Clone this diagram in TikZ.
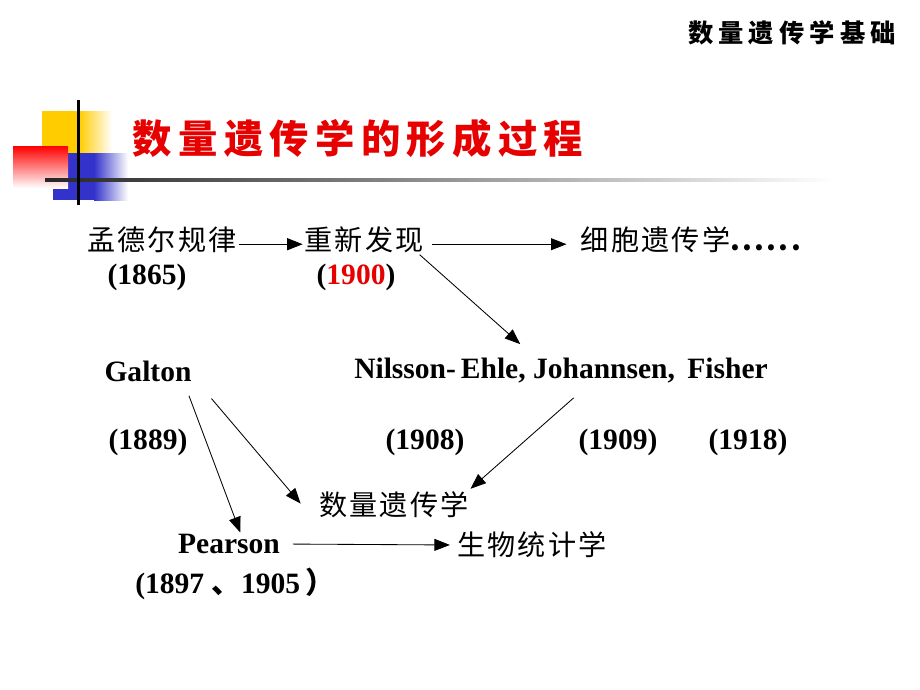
\documentclass[tikz,border=0pt]{standalone}
\usepackage{fontspec}
\setmainfont{Liberation Serif}
\newfontfamily\hzfont[LetterSpace=8]{Noto Sans CJK SC}
\newfontfamily\hzhead[LetterSpace=20]{Noto Sans CJK SC}
\newfontfamily\hztitle[LetterSpace=16]{Noto Sans CJK SC}
\newfontfamily\hzplain{Noto Sans CJK SC}
\usetikzlibrary{arrows.meta, positioning}

\definecolor{deco yellow}{RGB}{255,204,0}
\definecolor{deco blue}{RGB}{51,51,204}
\definecolor{title red}{RGB}{230,0,0}

\begin{document}
\begin{tikzpicture}[x=0.025cm, y=-0.025cm, >={Triangle[length=11pt,width=8.5pt]},
	hz/.style={font=\hzfont\fontsize{20}{24}\selectfont, inner sep=1pt},
	yr/.style={font=\fontsize{21}{25}\selectfont\bfseries, inner sep=1pt},
	link/.style={->, line width=0.6pt}]
	\useasboundingbox (0,0) rectangle (920,690);

	% corner decoration
	\fill[deco yellow] (42,111) rectangle (80,155);
	\shade[left color=deco yellow, right color=white] (79,111) rectangle (112,155);
	\fill[deco blue] (53,153) rectangle (95,200);
	\shade[left color=deco blue, right color=white] (94,153) rectangle (128,200);
	\shade[shading angle=60, top color=red, bottom color=white] (13,146) rectangle (68,188);
	\shade[left color=black!85, right color=white] (45,178.5) rectangle (835,181.5);
	\fill[black] (76.5,100) rectangle (79.5,205);

	% headings
	\node[font=\hzhead\bfseries\fontsize{18}{22}\selectfont, inner sep=0pt] (header) at (792,33) {数量遗传学基础};
	\node[font=\hztitle\bfseries\fontsize{28}{32}\selectfont, text=title red, inner sep=0pt] (title) at (358,138) {数量遗传学的形成过程};

	% nodes
	\node[hz] (mendel) at (162,240) {孟德尔规律};
	\node[yr] (y1865)  at (147,277) {(1865)};
	\node[hz] (redisc) at (364,240) {重新发现};
	\node[yr] (y1900)  at (356,277) {(\textcolor{title red}{1900})};
	\node[hz] (cyto)   at (692,240) {细胞遗传学\textbf{......}};

	\node[yr] (galton) at (148,371) {Galton};
	\node[yr] (nje)    at (561,371) {Nilsson-\,Ehle, Johannsen,\, Fisher};
	\node[yr] (y1889)  at (148,442) {(1889)};
	\node[yr] (y1908)  at (425,442) {(1908)};
	\node[yr] (y1909)  at (618,442) {(1909)};
	\node[yr] (y1918)  at (748,442) {(1918)};

	\node[hz] (quant)   at (394,505) {数量遗传学};
	\node[yr] (pearson) at (229,544) {Pearson};
	\node[hz] (biom)    at (532,545) {生物统计学};
	\node[yr] (y1897)   at (235,584) {(1897 {\hzplain 、}1905\,{\hzplain\bfseries ）}};

	% arrows
	\draw[link] ([yshift=-3pt]mendel.east) -- ([yshift=-3pt]redisc.west);
	\draw[link, shorten <=5pt, shorten >=9pt] ([yshift=-3pt]redisc.east) -- ([yshift=-3pt]cyto.west);
	\draw[link] ([xshift=-4pt]redisc.south east) -- ([xshift=-29pt,yshift=9pt]nje.north);
	\draw[link] ([xshift=-3pt,yshift=-9pt]galton.south east) -- ([xshift=8pt]pearson.north);
	\draw[link] ([xshift=13pt,yshift=-11pt]galton.south east) -- ([xshift=-12pt,yshift=1pt]quant.west);
	\draw[link] ([xshift=9pt,yshift=-9pt]nje.south) -- ([yshift=1pt]quant.north east);
	\draw[link, shorten <=8pt, shorten >=4pt] (pearson.east) -- (biom.west);
\end{tikzpicture}
\end{document}
